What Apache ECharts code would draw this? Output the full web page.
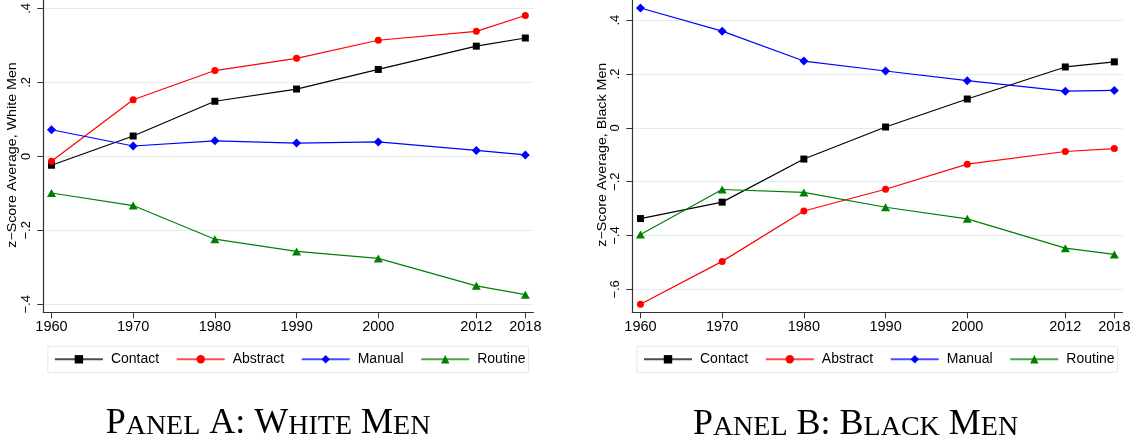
<!DOCTYPE html>
<html>
<head>
<meta charset="utf-8">
<title>Task z-score averages by race</title>
<script src="https://cdn.jsdelivr.net/npm/echarts@6/dist/echarts.min.js"></script>
<style>
  html, body { margin: 0; padding: 0; background: #ffffff; }
  #chart { width: 1135px; height: 438px; }
</style>
</head>
<body>
<div id="chart"></div>
<script>
// Census / ACS years on the x axis
const years = [1960, 1970, 1980, 1990, 2000, 2012, 2018];
const seriesNames = ['Contact', 'Abstract', 'Manual', 'Routine'];

// Panel A: white men
const whiteContact  = [-0.024, 0.055, 0.149, 0.182, 0.235, 0.298, 0.320];
const whiteAbstract = [-0.013, 0.153, 0.232, 0.265, 0.314, 0.338, 0.381];
const whiteManual   = [0.072, 0.028, 0.042, 0.036, 0.039, 0.016, 0.004];
const whiteRoutine  = [-0.099, -0.133, -0.224, -0.257, -0.276, -0.350, -0.374];

// Panel B: black men
const blackContact  = [-0.337, -0.276, -0.116, 0.003, 0.107, 0.226, 0.245];
const blackAbstract = [-0.655, -0.496, -0.309, -0.228, -0.135, -0.088, -0.077];
const blackManual   = [0.445, 0.359, 0.248, 0.211, 0.175, 0.136, 0.139];
const blackRoutine  = [-0.396, -0.229, -0.240, -0.295, -0.338, -0.447, -0.470];

// Labelled y ticks per panel
const yTicksWhite = [-0.4, -0.2, 0, 0.2, 0.4];
const yTicksBlack = [-0.6, -0.4, -0.2, 0, 0.2, 0.4];

const yTitleWhite = 'z\u2212Score Average, White Men';
const yTitleBlack = 'z\u2212Score Average, Black Men';

// ---- styling ----
const SANS = '"Liberation Sans", Arial, sans-serif';
const SERIF = '"Liberation Serif", "Times New Roman", serif';
const AXIS_COLOR = '#333333';
const GRID_COLOR = '#e3ecef';

const marks = {
  Contact:  { color: '#000000', symbol: 'rect',     size: 7 },
  Abstract: { color: '#ff0000', symbol: 'circle',   size: 7 },
  Manual:   { color: '#0000ff', symbol: 'diamond',  size: [9, 9] },
  Routine:  { color: '#008000', symbol: 'triangle', size: [9, 8] }
};

function fmtTick(v) {
  if (Math.abs(v) < 1e-9) return '0';
  const s = Math.abs(v).toFixed(1).replace(/^0/, '');
  return (v < 0 ? '\u2212' : '') + s;
}

const panels = [
  { left: 43.3, yMin: -0.4216, yMax: 0.4216, ticks: yTicksWhite,
    data: [whiteContact, whiteAbstract, whiteManual, whiteRoutine] },
  { left: 632.3, yMin: -0.6851, yMax: 0.4747, ticks: yTicksBlack,
    data: [blackContact, blackAbstract, blackManual, blackRoutine] }
];

const grid = [], xAxis = [], yAxis = [], series = [], legend = [];

panels.forEach((p, i) => {
  grid.push({ left: p.left, top: 0, width: 490.2, height: 312.3 });

  xAxis.push({
    type: 'value', gridIndex: i, min: 1959, max: 2019,
    axisLine: { show: true, onZero: false, lineStyle: { color: AXIS_COLOR, width: 1.2 } },
    axisTick: { show: true, customValues: years, length: 6, lineStyle: { color: AXIS_COLOR, width: 1 } },
    axisLabel: { customValues: years, margin: 7, color: '#000', fontFamily: SANS, fontSize: 14.5,
                 formatter: v => String(v) },
    splitLine: { show: false }
  });

  yAxis.push({
    type: 'value', gridIndex: i, min: p.yMin, max: p.yMax,
    axisLine: { show: true, onZero: false, lineStyle: { color: AXIS_COLOR, width: 1.2 } },
    axisTick: { show: true, customValues: p.ticks, length: 6, lineStyle: { color: AXIS_COLOR, width: 1 } },
    axisLabel: { customValues: p.ticks, rotate: 90, margin: 10, color: '#000',
                 fontFamily: SANS, fontSize: 13, formatter: fmtTick },
    splitLine: { show: true, lineStyle: { color: GRID_COLOR, width: 1 } }
  });

  seriesNames.forEach((name, k) => {
    const m = marks[name];
    series.push({
      type: 'line', name: name, xAxisIndex: i, yAxisIndex: i,
      data: years.map((yr, j) => [yr, p.data[k][j]]),
      symbol: m.symbol, symbolSize: m.size, showSymbol: true,
      lineStyle: { color: m.color, width: 1.2 },
      itemStyle: { color: m.color },
      emphasis: { disabled: true },
      animation: false
    });
  });

  legend.push({
    data: seriesNames, orient: 'horizontal',
    left: i === 0 ? 47.9 : 637, top: 346.3,
    itemWidth: 48, itemHeight: 10.5, itemGap: 16.6,
    padding: [6, 3, 6, 6],
    borderColor: '#e2eaec', borderWidth: 1,
    selectedMode: false,
    lineStyle: { opacity: 0.7 },
    textStyle: { fontFamily: SANS, fontSize: 14, color: '#000', padding: [0, 0, 0, 3] }
  });
});

// Rotated axis titles and the small-caps panel captions
function yTitle(x, y, text) {
  return {
    type: 'text', x: x, y: y, rotation: Math.PI / 2, scaleX: 1.14, silent: true,
    style: { text: text, font: '12.5px ' + SANS, fill: '#000',
             align: 'center', verticalAlign: 'middle',
             textAlign: 'center', textVerticalAlign: 'middle' }
  };
}

const capRich = {
  b: { fontFamily: SERIF, fontSize: 36, verticalAlign: 'middle', color: '#000' },
  s: { fontFamily: SERIF, fontSize: 28, verticalAlign: 'middle', padding: [5.4, 0, 0, 0], color: '#000' }
};

function caption(x, y, text) {
  return {
    type: 'text', x: x, y: y, silent: true,
    style: { text: text, rich: capRich, font: '36px ' + SERIF, fill: '#000',
             align: 'center', verticalAlign: 'middle',
             textAlign: 'center', textVerticalAlign: 'middle' }
  };
}

const chart = echarts.init(document.getElementById('chart'), null, { renderer: 'canvas' });
chart.setOption({
  backgroundColor: '#ffffff',
  animation: false,
  grid: grid,
  xAxis: xAxis,
  yAxis: yAxis,
  legend: legend,
  series: series,
  graphic: [
    yTitle(12.5, 155, yTitleWhite),
    yTitle(602.5, 154.7, yTitleBlack),
    caption(268, 423.5, '{b|P}{s|ANEL} {b|A:} {b|W}{s|HITE} {b|M}{s|EN}'),
    caption(855.5, 424.5, '{b|P}{s|ANEL} {b|B:} {b|B}{s|LACK} {b|M}{s|EN}')
  ]
});
</script>
</body>
</html>
